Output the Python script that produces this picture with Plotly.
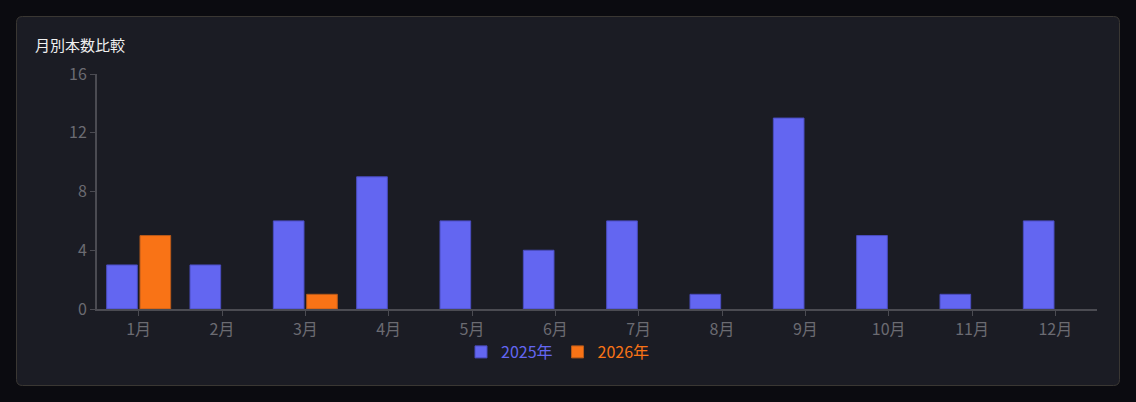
import plotly.graph_objects as go

# données
months = ["1月", "2月", "3月", "4月", "5月", "6月", "7月", "8月", "9月", "10月", "11月", "12月"]
counts_2025 = [3, 3, 6, 9, 6, 4, 6, 1, 13, 5, 1, 6]
counts_2026 = [5, 0, 1, 0, 0, 0, 0, 0, 0, 0, 0, 0]
y_ticks = [0, 4, 8, 12, 16]

blue = "#6366f1"
orange = "#f97316"
axis_col = "#4b4b52"
tick_col = "#6b6b72"

fig = go.Figure()
fig.add_trace(go.Bar(
    x=months, y=counts_2025,
    name=f'<span style="color:{blue}">2025年</span>',
    marker=dict(color=blue, line=dict(color="#4a4cc0", width=[1 if v else 0 for v in counts_2025])),
))
fig.add_trace(go.Bar(
    x=months, y=counts_2026,
    name=f'<span style="color:{orange}">2026年</span>',
    marker=dict(color=orange, line=dict(color="#b85a1a", width=[1 if v else 0 for v in counts_2026])),
))

# zone du graphe : x 97..1097, y 74..309 (pixels)
W, H = 1136, 402
L, R, T, B = 97, W - 1097, 74, H - 309
pw, ph = W - L - R, H - T - B

def px(x):
    return (x - L) / pw

def py(y):
    return (H - B - y) / ph

# carte arrondie
x0, x1, y0, y1 = px(16.5), px(1119.5), py(16.5), py(385.5)
rx, ry = 6 / pw, 6 / ph
card = (f"M {x0+rx},{y0} L {x1-rx},{y0} Q {x1},{y0} {x1},{y0-ry} "
        f"L {x1},{y1+ry} Q {x1},{y1} {x1-rx},{y1} "
        f"L {x0+rx},{y1} Q {x0},{y1} {x0},{y1+ry} "
        f"L {x0},{y0-ry} Q {x0},{y0} {x0+rx},{y0} Z")
fig.add_shape(type="path", path=card, xref="paper", yref="paper",
              fillcolor="#1b1c24", line=dict(color="#3a3733", width=1), layer="below")

fig.add_annotation(text="月別本数比較", xref="paper", yref="paper",
                   x=px(33), y=py(45), xanchor="left", yanchor="middle",
                   showarrow=False, font=dict(size=15, color="#f0f0f0"))

fig.update_layout(
    width=W, height=H,
    margin=dict(l=L, r=R, t=T, b=B),
    paper_bgcolor="#0b0b10",
    plot_bgcolor="rgba(0,0,0,0)",
    font=dict(family="Noto Sans CJK JP, Noto Sans, sans-serif", size=16, color=tick_col),
    barmode="group",
    bargap=0.2,
    bargroupgap=0.08,
    showlegend=True,
    legend=dict(orientation="h", x=px(558), y=py(352), xanchor="center", yanchor="middle",
                font=dict(size=16), itemwidth=30, bgcolor="rgba(0,0,0,0)"),
    xaxis=dict(showgrid=False, showline=True, linecolor=axis_col, linewidth=2,
               ticks="outside", ticklen=5, tickcolor=axis_col, tickfont=dict(color=tick_col, size=16)),
    yaxis=dict(range=[0, 16], tickvals=y_ticks, showgrid=False, zeroline=False,
               showline=True, linecolor=axis_col, linewidth=2,
               ticks="outside", ticklen=5, tickcolor=axis_col, tickfont=dict(color=tick_col, size=16)),
    hovermode=False,
)

fig.write_html("out.html", config={"displayModeBar": False},
               post_script="document.body.style.margin='0';document.body.style.background='#0b0b10';")
